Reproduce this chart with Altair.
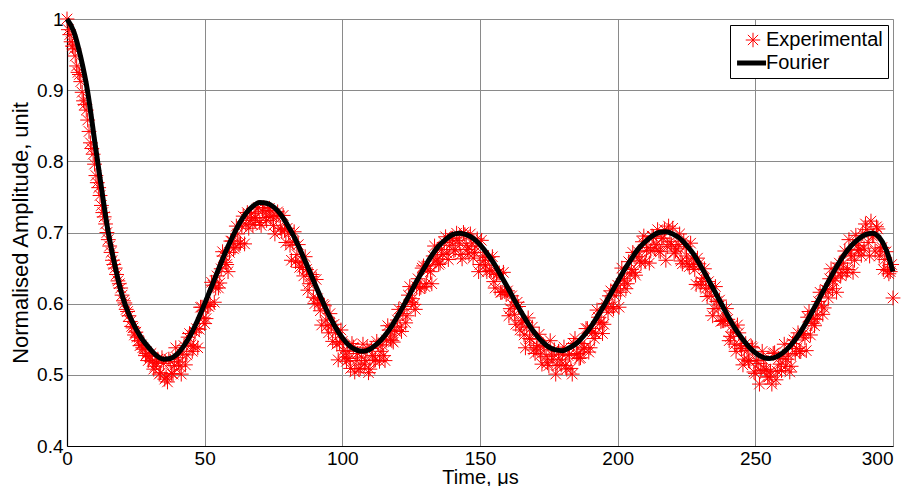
import altair as alt
import pandas as pd

# ---------------- data ----------------
series_names = ["Experimental", "Fourier"]

# Fourier fit, sampled every 2.5 us from 0 to 300 us
fourier_step = 2.5
fourier_amp = [
    1.000, 0.982, 0.946, 0.898, 0.830, 0.763, 0.700, 0.652, 0.612, 0.585,
    0.565, 0.549, 0.537, 0.527, 0.522, 0.523, 0.529, 0.541, 0.557, 0.577,
    0.600, 0.624, 0.648, 0.672, 0.693, 0.712, 0.727, 0.737, 0.742, 0.741,
    0.736, 0.726, 0.711, 0.694, 0.673, 0.651, 0.628, 0.606, 0.585, 0.567,
    0.552, 0.541, 0.535, 0.533, 0.536, 0.543, 0.553, 0.566, 0.582, 0.599,
    0.617, 0.635, 0.652, 0.668, 0.681, 0.690, 0.697, 0.699, 0.697, 0.692,
    0.683, 0.671, 0.657, 0.640, 0.623, 0.605, 0.588, 0.572, 0.558, 0.547,
    0.539, 0.535, 0.534, 0.538, 0.544, 0.554, 0.566, 0.581, 0.597, 0.614,
    0.631, 0.648, 0.663, 0.677, 0.687, 0.695, 0.700, 0.701, 0.698, 0.692,
    0.682, 0.670, 0.654, 0.637, 0.619, 0.601, 0.583, 0.566, 0.552, 0.540,
    0.531, 0.525, 0.523, 0.525, 0.531, 0.540, 0.552, 0.567, 0.584, 0.602,
    0.620, 0.638, 0.655, 0.670, 0.682, 0.691, 0.697, 0.699, 0.693, 0.676,
    0.645,
]
fourier_time = [i * fourier_step for i in range(len(fourier_amp))]

# Experimental samples at whole microseconds, 0 .. 300 us
exp_amp_whole = [
    1.000, 0.978, 0.962, 0.948, 0.925, 0.912, 0.885, 0.872, 0.842, 0.818,
    0.796, 0.770, 0.752, 0.728, 0.712, 0.690, 0.672, 0.655, 0.641, 0.628,
    0.612, 0.601, 0.589, 0.575, 0.566, 0.560, 0.548, 0.542, 0.536, 0.530,
    0.526, 0.519, 0.512, 0.522, 0.503, 0.516, 0.497, 0.522, 0.502, 0.513,
    0.524, 0.512, 0.529, 0.514, 0.553, 0.542, 0.540, 0.565, 0.564, 0.595,
    0.572, 0.597, 0.599, 0.626, 0.622, 0.622, 0.649, 0.667, 0.655, 0.672,
    0.688, 0.679, 0.698, 0.685, 0.723, 0.712, 0.706, 0.727, 0.720, 0.733,
    0.714, 0.730, 0.721, 0.731, 0.722, 0.710, 0.723, 0.724, 0.702, 0.704,
    0.706, 0.682, 0.687, 0.659, 0.683, 0.658, 0.639, 0.648, 0.628, 0.641,
    0.600, 0.607, 0.590, 0.599, 0.577, 0.559, 0.569, 0.571, 0.543, 0.545,
    0.547, 0.525, 0.533, 0.509, 0.539, 0.520, 0.508, 0.525, 0.515, 0.538,
    0.508, 0.527, 0.521, 0.542, 0.533, 0.527, 0.549, 0.563, 0.548, 0.562,
    0.577, 0.567, 0.586, 0.573, 0.612, 0.602, 0.599, 0.624, 0.621, 0.650,
    0.624, 0.647, 0.645, 0.667, 0.660, 0.655, 0.676, 0.686, 0.671, 0.682,
    0.692, 0.676, 0.689, 0.669, 0.700, 0.682, 0.670, 0.685, 0.672, 0.691,
    0.655, 0.667, 0.654, 0.665, 0.646, 0.631, 0.641, 0.643, 0.616, 0.617,
    0.618, 0.593, 0.598, 0.571, 0.596, 0.573, 0.556, 0.567, 0.551, 0.567,
    0.530, 0.541, 0.529, 0.542, 0.526, 0.513, 0.528, 0.535, 0.513, 0.521,
    0.529, 0.513, 0.527, 0.509, 0.544, 0.529, 0.523, 0.544, 0.538, 0.565,
    0.538, 0.560, 0.558, 0.581, 0.574, 0.571, 0.595, 0.611, 0.596, 0.611,
    0.626, 0.616, 0.635, 0.621, 0.659, 0.648, 0.644, 0.666, 0.661, 0.687,
    0.659, 0.679, 0.674, 0.694, 0.683, 0.674, 0.692, 0.704, 0.680, 0.687,
    0.706, 0.674, 0.683, 0.660, 0.688, 0.667, 0.652, 0.664, 0.648, 0.664,
    0.626, 0.636, 0.621, 0.631, 0.611, 0.593, 0.603, 0.605, 0.576, 0.577,
    0.578, 0.554, 0.560, 0.533, 0.559, 0.537, 0.522, 0.534, 0.519, 0.538,
    0.502, 0.516, 0.506, 0.521, 0.507, 0.497, 0.487, 0.531, 0.505, 0.515,
    0.526, 0.512, 0.528, 0.512, 0.549, 0.537, 0.533, 0.556, 0.552, 0.581,
    0.556, 0.579, 0.578, 0.603, 0.597, 0.594, 0.619, 0.635, 0.621, 0.636,
    0.650, 0.639, 0.657, 0.643, 0.690, 0.667, 0.661, 0.682, 0.675, 0.699,
    0.712, 0.686, 0.716, 0.696, 0.708, 0.667, 0.679, 0.662, 0.647, 0.645,
    0.608,
]
exp_time_whole = list(range(len(exp_amp_whole)))

# Experimental samples at half microseconds, 0.5 .. 299.5 us
exp_amp_half = [
    0.985, 0.968, 0.958, 0.934, 0.922, 0.897, 0.880, 0.858, 0.826, 0.810,
    0.780, 0.763, 0.738, 0.722, 0.700, 0.681, 0.661, 0.650, 0.632, 0.622,
    0.604, 0.592, 0.583, 0.568, 0.556, 0.553, 0.541, 0.538, 0.527, 0.520,
    0.530, 0.508, 0.517, 0.501, 0.524, 0.494, 0.490, 0.519, 0.501, 0.538,
    0.518, 0.501, 0.541, 0.528, 0.558, 0.533, 0.560, 0.538, 0.595, 0.580,
    0.579, 0.596, 0.630, 0.602, 0.639, 0.629, 0.673, 0.658, 0.645, 0.688,
    0.677, 0.709, 0.684, 0.709, 0.684, 0.728, 0.717, 0.711, 0.721, 0.735,
    0.710, 0.735, 0.717, 0.734, 0.723, 0.698, 0.729, 0.706, 0.724, 0.686,
    0.699, 0.661, 0.701, 0.669, 0.651, 0.651, 0.666, 0.619, 0.638, 0.609,
    0.634, 0.601, 0.570, 0.597, 0.569, 0.586, 0.547, 0.559, 0.521, 0.563,
    0.534, 0.519, 0.523, 0.544, 0.504, 0.530, 0.509, 0.543, 0.520, 0.503,
    0.537, 0.520, 0.547, 0.519, 0.542, 0.520, 0.569, 0.550, 0.546, 0.561,
    0.592, 0.561, 0.596, 0.583, 0.624, 0.607, 0.592, 0.635, 0.623, 0.653,
    0.628, 0.653, 0.628, 0.681, 0.663, 0.657, 0.669, 0.694, 0.662, 0.692,
    0.674, 0.699, 0.685, 0.663, 0.697, 0.676, 0.698, 0.664, 0.680, 0.645,
    0.689, 0.661, 0.645, 0.647, 0.666, 0.622, 0.643, 0.616, 0.644, 0.613,
    0.583, 0.611, 0.585, 0.602, 0.563, 0.576, 0.538, 0.580, 0.550, 0.535,
    0.538, 0.557, 0.515, 0.540, 0.517, 0.548, 0.522, 0.501, 0.533, 0.514,
    0.539, 0.508, 0.529, 0.501, 0.551, 0.530, 0.524, 0.536, 0.565, 0.532,
    0.565, 0.551, 0.591, 0.573, 0.558, 0.600, 0.588, 0.618, 0.593, 0.619,
    0.595, 0.650, 0.632, 0.628, 0.642, 0.672, 0.640, 0.673, 0.657, 0.695,
    0.675, 0.657, 0.695, 0.678, 0.704, 0.673, 0.692, 0.661, 0.709, 0.683,
    0.671, 0.677, 0.698, 0.656, 0.680, 0.656, 0.685, 0.655, 0.627, 0.656,
    0.631, 0.649, 0.610, 0.622, 0.583, 0.624, 0.593, 0.575, 0.576, 0.593,
    0.548, 0.569, 0.543, 0.570, 0.541, 0.514, 0.544, 0.520, 0.540, 0.504,
    0.520, 0.487, 0.533, 0.508, 0.497, 0.505, 0.530, 0.493, 0.523, 0.506,
    0.543, 0.522, 0.504, 0.544, 0.530, 0.559, 0.533, 0.558, 0.534, 0.589,
    0.572, 0.569, 0.584, 0.616, 0.585, 0.620, 0.608, 0.649, 0.632, 0.616,
    0.657, 0.644, 0.674, 0.648, 0.671, 0.644, 0.696, 0.676, 0.668, 0.678,
    0.704, 0.667, 0.695, 0.674, 0.705, 0.677, 0.648, 0.673, 0.642, 0.655,
]
exp_time_half = [i + 0.5 for i in range(len(exp_amp_half))]

x_ticks = [0, 50, 100, 150, 200, 250, 300]
y_ticks = [0.4, 0.5, 0.6, 0.7, 0.8, 0.9, 1.0]

# ---------------- tables ----------------
exp_df = pd.DataFrame({
    "t": exp_time_whole + exp_time_half,
    "amp": exp_amp_whole + exp_amp_half,
    "series": series_names[0],
}).sort_values("t")
fourier_df = pd.DataFrame({"t": fourier_time, "amp": fourier_amp, "series": series_names[1]})

FONT = "Liberation Sans"
ASTERISK = "M-1,0L1,0M0,-1L0,1M-0.707,-0.707L0.707,0.707M-0.707,0.707L0.707,-0.707"
LEGEND_LINE = "M-2.2,0L1.8,0"

x_scale = alt.Scale(domain=[0, 300], nice=False, zero=False)
y_scale = alt.Scale(domain=[0.4, 1.0], nice=False, zero=False)

x_axis = alt.Axis(
    values=x_ticks, title="Time, μs", format="d",
    labelFontSize=19, titleFontSize=20, labelFont=FONT, titleFont=FONT,
    labelColor="black", titleColor="black", titleFontWeight="normal",
    ticks=False, domainColor="black", domainWidth=1.2,
    gridColor="#8a8a8a", gridWidth=1, labelPadding=3,
    titleY=37, titleBaseline="alphabetic",
    labelFlush=False,
    labelAlign=alt.condition("datum.value >= 300", alt.value("right"), alt.value("center")),
)
y_axis = alt.Axis(
    values=y_ticks, title="Normalised Amplitude, unit", format="~g",
    labelFontSize=19, titleFontSize=22, labelFont=FONT, titleFont=FONT,
    labelColor="black", titleColor="black", titleFontWeight="normal",
    ticks=False, domainColor="black", domainWidth=1.2,
    gridColor="#8a8a8a", gridWidth=1, labelPadding=4, titlePadding=4,
    labelFlush=False,
)

legend = alt.Legend(
    title=None, orient="none", legendX=663, legendY=6,
    labelFontSize=20, labelFont=FONT, labelColor="black",
    symbolSize=210, symbolOffset=8, labelOffset=3,
    padding=5, rowPadding=3,
    strokeColor="black", fillColor="white",
    symbolStrokeWidth={"expr": "datum.value === 'Fourier' ? 5 : 1"},
)

points = alt.Chart(exp_df).mark_point(
    filled=False, strokeWidth=1, opacity=1, size=220, clip=False
).encode(
    x=alt.X("t:Q", scale=x_scale, axis=x_axis),
    y=alt.Y("amp:Q", scale=y_scale, axis=y_axis),
    color=alt.Color("series:N", scale=alt.Scale(domain=series_names, range=["#ff0000", "#000000"]), legend=legend),
    shape=alt.Shape("series:N", scale=alt.Scale(domain=series_names, range=[ASTERISK, LEGEND_LINE]), legend=legend),
)

line = alt.Chart(fourier_df).mark_line(
    color="black", strokeWidth=5, interpolate="monotone"
).encode(
    x=alt.X("t:Q", scale=x_scale),
    y=alt.Y("amp:Q", scale=y_scale),
)

chart = alt.layer(points, line).properties(
    width=826, height=427,
    autosize=alt.AutoSizeParams(type="none"),
    padding={"left": 59, "top": 11, "right": 9, "bottom": 40},
).configure_view(
    stroke="black", strokeWidth=1.2
).configure(background="white")

chart.save("out.html", embed_options={"renderer": "svg", "actions": False})
